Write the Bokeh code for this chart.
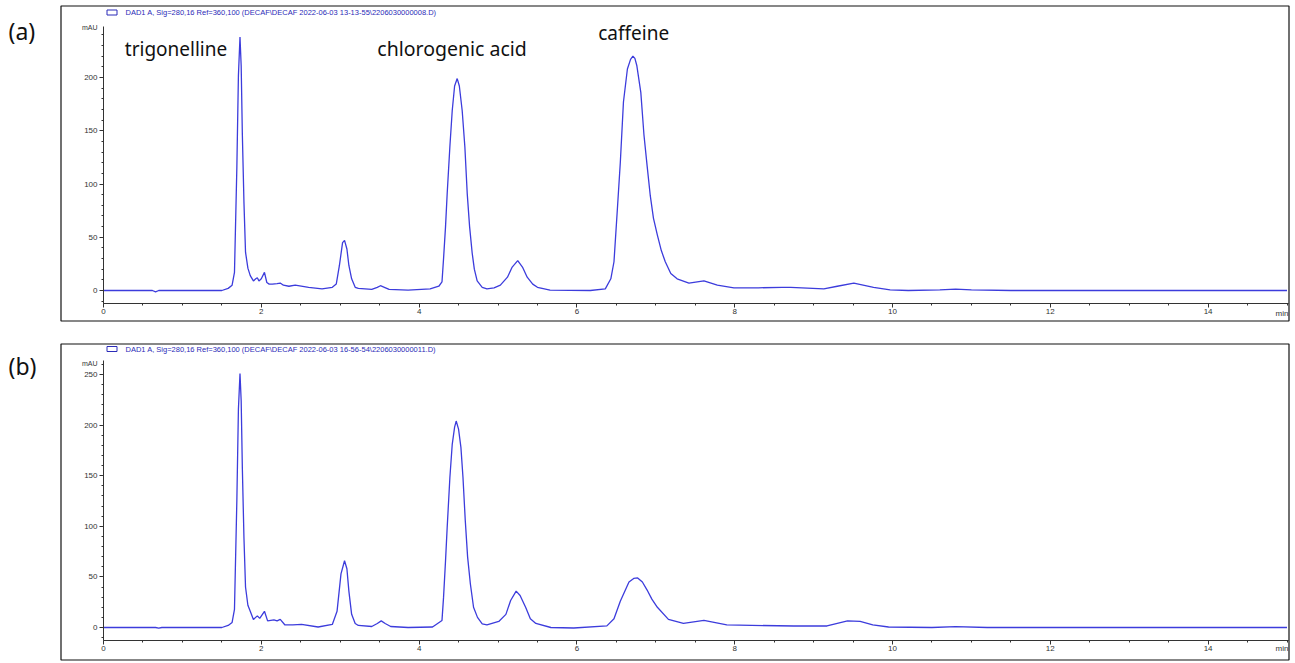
from bokeh.plotting import figure
from bokeh.models import Label, BoxAnnotation, SingleIntervalTicker, Range1d, ColumnDataSource, LinearAxis
from bokeh.layouts import column
from bokeh.embed import file_html
from bokeh.resources import INLINE

# ---------------- data ----------------
time_a = [0.0, 0.5, 0.62, 0.66, 0.70, 1.0, 1.50, 1.58, 1.63, 1.66, 1.69, 1.71, 1.73, 1.745,
          1.76, 1.78, 1.80, 1.83, 1.86, 1.90, 1.93, 1.95, 1.97, 2.00, 2.04, 2.07, 2.10, 2.14,
          2.20, 2.24, 2.28, 2.35, 2.43, 2.60, 2.77, 2.90, 2.95, 2.99, 3.03, 3.055, 3.085, 3.11,
          3.145, 3.19, 3.23, 3.40, 3.47, 3.51, 3.56, 3.62, 3.86, 4.14, 4.25, 4.29, 4.31, 4.335,
          4.356, 4.39, 4.42, 4.45, 4.483, 4.51, 4.546, 4.58, 4.61, 4.64, 4.673, 4.70, 4.736,
          4.80, 4.86, 4.95, 5.03, 5.12, 5.18, 5.25, 5.31, 5.37, 5.44, 5.50, 5.66, 6.17, 6.36,
          6.43, 6.47, 6.51, 6.55, 6.59, 6.64, 6.68, 6.71, 6.735, 6.76, 6.81, 6.85, 6.89, 6.93,
          6.97, 7.02, 7.07, 7.12, 7.19, 7.27, 7.42, 7.61, 7.78, 7.99, 8.30, 8.60, 8.71, 9.13,
          9.30, 9.51, 9.76, 9.97, 10.2, 10.6, 10.8, 11.0, 11.5, 15.0]
signal_a = [0.0, 0.0, 0.0, -1.2, 0.0, 0.0, 0.0, 2, 5, 17, 115, 202, 238, 211,
            146, 83, 36, 21, 14, 9, 11, 12, 9, 11, 17, 7.5, 6, 6,
            6.5, 7, 5, 4, 5, 3, 1.5, 3, 6, 23.5, 45, 47, 39, 23.5,
            11, 3, 2, 1, 3, 4.5, 3, 1, 0.3, 1.5, 4, 8, 30, 60,
            91, 135, 169, 192, 199, 192, 169, 135, 91, 60, 35, 20, 9,
            3, 1.5, 2.5, 5, 12.5, 22, 28, 22, 12.5, 6, 3, 0.3, 0.0, 1.5,
            11, 27, 73, 120, 177, 208, 217, 220, 218, 211, 186, 146, 117, 89,
            68, 52, 37.5, 27, 16, 11, 7, 9, 5, 2.5, 2.5, 3, 3, 1.5,
            4, 7, 3, 0.5, 0.0, 0.5, 1.2, 0.5, 0.0, 0.0]

time_b = [0.0, 0.5, 0.66, 0.70, 0.74, 1.0, 1.50, 1.58, 1.63, 1.66, 1.69, 1.71, 1.73, 1.745,
          1.76, 1.78, 1.80, 1.83, 1.86, 1.90, 1.95, 1.98, 2.04, 2.08, 2.12, 2.16, 2.20, 2.24,
          2.30, 2.40, 2.51, 2.72, 2.90, 2.96, 3.01, 3.055, 3.085, 3.11, 3.145, 3.19, 3.23,
          3.40, 3.47, 3.52, 3.57, 3.64, 3.86, 4.17, 4.29, 4.31, 4.335, 4.356, 4.39, 4.42, 4.45,
          4.47, 4.50, 4.53, 4.556, 4.585, 4.615, 4.65, 4.69, 4.74, 4.80, 4.86, 5.01, 5.10,
          5.16, 5.23, 5.28, 5.35, 5.41, 5.48, 5.67, 5.96, 6.38, 6.47, 6.55, 6.66, 6.72, 6.77,
          6.83, 6.89, 6.95, 7.02, 7.16, 7.35, 7.61, 7.90, 8.75, 9.17, 9.43, 9.59, 9.75, 9.95,
          10.5, 10.8, 11.2, 15.0]
signal_b = [0.0, 0.0, 0.0, -0.6, 0.0, 0.0, 0.0, 2, 5, 18, 125, 216, 251, 224,
            157, 89, 40, 22, 16, 8, 11.5, 9, 16, 6.5, 7, 7.5, 6.5, 8,
            2.5, 2.5, 3, 0.5, 3, 16, 53, 66, 58, 36, 13, 4, 2,
            1, 4, 6.5, 4, 1, 0.0, 0.5, 7, 30, 66, 99, 148, 181, 198,
            204, 196, 178, 148.5, 106, 69.5, 43, 20, 10, 3.5, 2.5, 6, 13,
            26.7, 36, 31.6, 20, 8.6, 4, 0.0, -0.5, 1.6, 8.6, 26, 45, 48.5, 49,
            45, 37, 28, 20, 8, 4, 7, 2.5, 1.5, 1.5, 6.5, 6, 2.5, 0.5,
            0.0, 0.8, 0.0, 0.0]

header_a = r"DAD1 A, Sig=280,16 Ref=360,100 (DECAF\DECAF 2022-06-03 13-13-55\2206030000008.D)"
header_b = r"DAD1 A, Sig=280,16 Ref=360,100 (DECAF\DECAF 2022-06-03 16-56-54\2206030000011.D)"
panel_tags = ["(a)", "(b)"]

compound_names = ["trigonelline", "chlorogenic acid", "caffeine"]
compound_x = [0.27, 3.47, 6.27]
compound_y = [227, 227, 242]

x_bounds = (0, 15.02)
x_major = 2
y_major = 50
y_bounds_a = (-12.2, 248)
y_bounds_b = (-12.8, 263.8)

# ---------------- layout / styling ----------------
LINE = "#3c3cdc"
AXIS = "#333333"
HEAD = "#2b2bb8"
W = 1294
AXIS_X0 = 103          # pixel column of t = 0
PX_PER_MIN = 78.9
BOX_L, BOX_R = 60.5, 1288.5
FONT = "Liberation Sans"
LABEL_FONT = "Noto Sans"


def make_panel(t, s, header, tag, height, zero_px, px_per_unit, ybounds,
               box_top, box_bot, head_y, tag_y, mau_y, min_y):
    xr = Range1d(-AXIS_X0 / PX_PER_MIN, (W - AXIS_X0) / PX_PER_MIN)
    yr = Range1d(-(height - zero_px) / px_per_unit, zero_px / px_per_unit)
    p = figure(width=W, height=height, output_backend="svg", toolbar_location=None,
               x_range=xr, y_range=yr, x_axis_type=None, y_axis_type=None,
               min_border_left=0, min_border_right=0, min_border_top=0, min_border_bottom=0)
    p.outline_line_color = None
    p.xgrid.visible = False
    p.ygrid.visible = False
    p.background_fill_color = "white"
    p.border_fill_color = "white"

    def sy(local_y):
        return height - local_y

    # outer box
    p.add_layout(BoxAnnotation(left=BOX_L, right=BOX_R, top=sy(box_top), bottom=sy(box_bot),
                               left_units="screen", right_units="screen",
                               top_units="screen", bottom_units="screen",
                               fill_alpha=0, line_color="#111111", line_alpha=1.0, line_width=1.2))

    src = ColumnDataSource(dict(t=t, v=s))
    p.line(x="t", y="v", source=src, line_color=LINE, line_width=1.3)

    xaxis = LinearAxis(ticker=SingleIntervalTicker(interval=x_major, num_minor_ticks=4),
                       fixed_location=ybounds[0], bounds=x_bounds)
    yaxis = LinearAxis(ticker=SingleIntervalTicker(interval=y_major, num_minor_ticks=5),
                       fixed_location=0, bounds=ybounds)
    for ax in (xaxis, yaxis):
        ax.axis_line_color = AXIS
        ax.axis_line_width = 1
        ax.major_tick_line_color = AXIS
        ax.minor_tick_line_color = AXIS
        ax.major_tick_out = 4
        ax.major_tick_in = 0
        ax.minor_tick_out = 2
        ax.minor_tick_in = 0
        ax.major_label_text_font = FONT
        ax.major_label_text_font_size = "8px"
        ax.major_label_text_color = AXIS
        ax.major_label_standoff = 2
    p.add_layout(xaxis, "below")
    p.add_layout(yaxis, "left")

    # legend icon + header text
    p.add_layout(BoxAnnotation(left=106.5, right=116.5, top=sy(head_y - 2.5), bottom=sy(head_y + 2.5),
                               left_units="screen", right_units="screen",
                               top_units="screen", bottom_units="screen",
                               fill_alpha=0, line_color=HEAD, line_alpha=1.0, line_width=1))
    p.add_layout(Label(x=125, y=sy(head_y), x_units="screen", y_units="screen", text=header,
                       text_font=FONT, text_font_size="7.5px", text_color=HEAD,
                       text_baseline="middle", text_align="left"))
    # panel tag
    p.add_layout(Label(x=8, y=sy(tag_y), x_units="screen", y_units="screen", text=tag,
                       text_font=LABEL_FONT, text_font_size="23px", text_color="#111111",
                       text_baseline="middle", text_align="left"))
    # unit labels
    p.add_layout(Label(x=97, y=sy(mau_y), x_units="screen", y_units="screen", text="mAU",
                       text_font=FONT, text_font_size="7px", text_color=AXIS,
                       text_baseline="middle", text_align="right"))
    p.add_layout(Label(x=BOX_R - 0.5, y=sy(min_y), x_units="screen", y_units="screen", text="min",
                       text_font=FONT, text_font_size="8px", text_color=AXIS,
                       text_baseline="middle", text_align="right"))
    return p


pa = make_panel(time_a, signal_a, header_a, panel_tags[0], 332, 290, 1.065, y_bounds_a,
                box_top=5.5, box_bot=320.5, head_y=12, tag_y=30, mau_y=27, min_y=313)
label_sizes = ["19px", "19.5px", "19px"]
for name, cx, cy, fs in zip(compound_names, compound_x, compound_y, label_sizes):
    pa.add_layout(Label(x=cx, y=cy, text=name, text_font=LABEL_FONT, text_font_size=fs,
                        text_color="#111111", text_baseline="middle", text_align="left"))

pb = make_panel(time_b, signal_b, header_b, panel_tags[1], 330, 295, 1.012, y_bounds_b,
                box_top=11.5, box_bot=327.5, head_y=16.5, tag_y=33, mau_y=31, min_y=316)

layout = column(pa, pb, spacing=0)

html = file_html(layout, INLINE, title="chromatograms")
open("out.html", "w").write(html)
